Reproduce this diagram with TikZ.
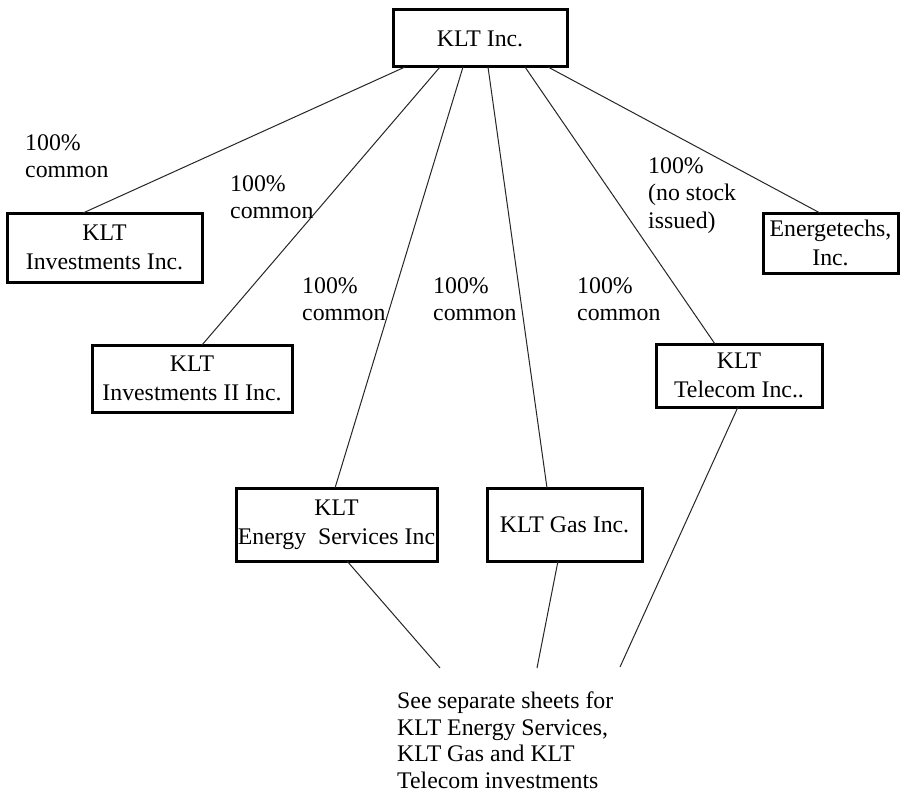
\documentclass[tikz,border=0pt]{standalone}
\usepackage{fontspec}
\setmainfont{Liberation Serif}
\begin{document}
\begin{tikzpicture}[x=1pt,y=-1pt,
  every node/.style={font=\fontsize{23.8}{29}\selectfont},
  co/.style={draw=black,line width=3pt,fill=white,rectangle,inner sep=0pt,outer sep=0pt,align=center},
  lbl/.style={anchor=north west,inner sep=0pt,align=left},
  link/.style={draw=black!85,line width=1pt}]
\useasboundingbox (0,0) rectangle (901,805);
\fill[white] (0,0) rectangle (901,805);
% boxes
\node[co,minimum width=174pt,minimum height=57pt] (top) at (480,38.5) {KLT Inc.};
\node[co,minimum width=195pt,minimum height=69pt] (inv1) at (104.5,247.5) {KLT\\Investments Inc.};
\node[co,minimum width=200pt,minimum height=67pt] (inv2) at (192,378.5) {KLT\\Investments II Inc.};
\node[co,minimum width=201pt,minimum height=73pt] (ener) at (336.5,524.5) {KLT\\Energy\ \ Services Inc};
\node[co,minimum width=155pt,minimum height=73pt] (gas) at (564.5,524.5) {KLT Gas Inc.};
\node[co,minimum width=166pt,minimum height=63pt] (tel) at (739,375.5) {KLT\\Telecom Inc..};
\node[co,minimum width=135pt,minimum height=60pt] (etech) at (830.5,243) {Energetechs,\\Inc.};
% connectors
\coordinate (endE) at (440,668);
\coordinate (endG) at (537,668);
\coordinate (endT) at (620,667);
\draw[link] ([xshift=12pt]top.south west) -- ([xshift=76pt]inv1.north west);
\draw[link] ([xshift=47pt]top.south west) -- ([xshift=110pt]inv2.north west);
\draw[link] ([xshift=70pt]top.south west) -- ([xshift=99pt]ener.north west);
\draw[link] ([xshift=95pt]top.south west) -- ([xshift=60pt]gas.north west);
\draw[link] ([xshift=132pt]top.south west) -- ([xshift=59pt]tel.north west);
\draw[link] ([xshift=155pt]top.south west) -- ([xshift=57pt]etech.north west);
\draw[link] ([xshift=111pt]ener.south west) -- (endE);
\draw[link] ([xshift=71pt]gas.south west) -- (endG);
\draw[link] ([xshift=82pt]tel.south west) -- (endT);
% labels
\node[lbl,font=\fontsize{23.8}{27.5}\selectfont] (l1) at (25,134) {100\%\\common};
\node[lbl,font=\fontsize{23.8}{27.5}\selectfont] (l2) at (230,175) {100\%\\common};
\node[lbl,font=\fontsize{23.8}{27.5}\selectfont] (l3) at (302,277) {100\%\\common};
\node[lbl,font=\fontsize{23.8}{27.5}\selectfont] (l4) at (433,277) {100\%\\common};
\node[lbl,font=\fontsize{23.8}{27.5}\selectfont] (l5) at (577,277) {100\%\\common};
\node[lbl,font=\fontsize{23.8}{27.5}\selectfont] (l6) at (648,157) {100\%\\(no stock\\issued)};
\node[lbl,font=\fontsize{23.8}{26.5}\selectfont] (note) at (397,692) {See separate sheets for\\KLT Energy Services,\\KLT Gas and KLT\\Telecom investments};
\end{tikzpicture}
\end{document}
